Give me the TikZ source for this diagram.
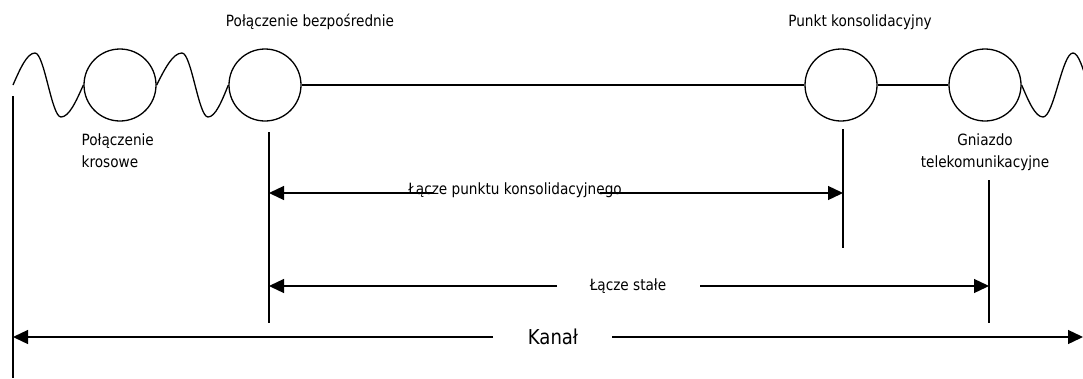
\documentclass[tikz,border=0pt]{standalone}
\usepackage{fontspec}
\setmainfont{DejaVu Sans}[FakeStretch=0.88]
\usetikzlibrary{arrows.meta}
\begin{document}
\begin{tikzpicture}[x=1pt,y=-1pt,line width=1.3pt,
  ring/.style={circle,draw,minimum size=72pt,inner sep=0pt},
  lbl/.style={font=\fontsize{15.5}{22}\selectfont,inner sep=0pt},
  big/.style={font=\fontsize{20.5}{24}\selectfont,inner sep=0pt},
  tip/.style={-{Triangle[length=15pt,width=14pt]}}]
\useasboundingbox (0,0) rectangle (1083,378);
\clip (0,0) rectangle (1083,378);
% rings
\node[ring] (c1) at (120,85) {};
\node[ring] (c2) at (265,85) {};
\node[ring] (c3) at (841,85) {};
\node[ring] (c4) at (985,85) {};
% wires
\coordinate (w0) at (13,85);
\draw (w0) sin (35,53) cos (48,85) sin (61,117) cos (c1.west);
\draw (c1.east) sin (182,53) cos (195,85) sin (208,117) cos (c2.west);
\draw (c4.east) sin (1043,117) cos (1058,85) sin (1073,53) cos (1088,85);
\draw (c2.east) -- (c3.west);
\draw (c3.east) -- (c4.west);
% labels
\node[lbl] (l1) at (310,22) {Połączenie bezpośrednie};
\node[lbl] (l2) at (860,22) {Punkt konsolidacyjny};
\node[lbl,align=left,anchor=north west] (l3) at (81,133) {Połączenie\\krosowe};
\node[lbl,align=center,anchor=north] (l4) at (985,133) {Gniazdo\\telekomunikacyjne};
% vertical markers
\coordinate (v0a) at (13,96);  \coordinate (v0b) at (13,378);
\coordinate (v1a) at (269,132); \coordinate (v1b) at (269,323);
\coordinate (v2a) at (843,129); \coordinate (v2b) at (843,248);
\coordinate (v3a) at (989,180); \coordinate (v3b) at (989,323);
\draw (v0a) -- (v0b);
\draw (v1a) -- (v1b);
\draw (v2a) -- (v2b);
\draw (v3a) -- (v3b);
% dimension arrows
\node[lbl] (t1) at (515,190) {Łącze punktu konsolidacyjnego};
\coordinate (a1l) at (269,193); \coordinate (a1r) at (843,193);
\coordinate (g1l) at (433,193); \coordinate (g1r) at (600,193);
\draw[tip] (g1l) -- (a1l);
\draw[tip] (g1r) -- (a1r);
\node[lbl] (t2) at (628,286) {Łącze stałe};
\coordinate (a2l) at (269,286); \coordinate (a2r) at (989,286);
\coordinate (g2l) at (557,286); \coordinate (g2r) at (700,286);
\draw[tip] (g2l) -- (a2l);
\draw[tip] (g2r) -- (a2r);
\node[big] (t3) at (553,337) {Kanał};
\coordinate (a3l) at (13,337); \coordinate (a3r) at (1083,337);
\coordinate (g3l) at (493,337); \coordinate (g3r) at (612,337);
\draw[tip] (g3l) -- (a3l);
\draw[tip] (g3r) -- (a3r);
\end{tikzpicture}
\end{document}
